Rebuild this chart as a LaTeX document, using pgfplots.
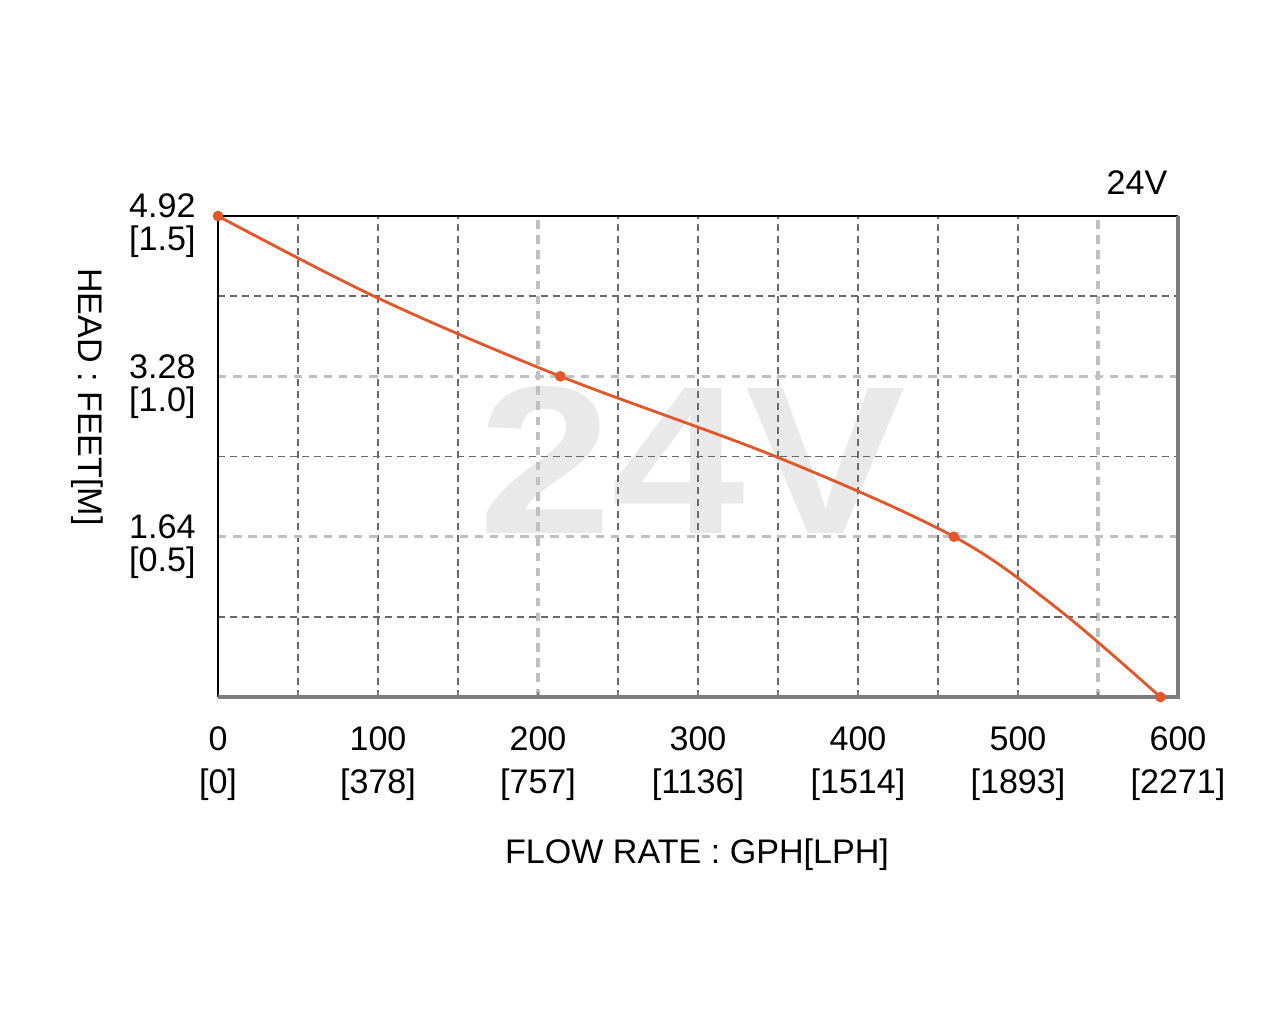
\documentclass[border=0pt]{standalone}
\usepackage{fontspec}
\setmainfont{Liberation Sans}
\usepackage{pgfplots}
\pgfplotsset{compat=1.18}
\definecolor{curve}{RGB}{226,86,42}
\definecolor{griddark}{RGB}{105,105,105}
\definecolor{gridlight}{RGB}{192,192,192}
\definecolor{frameg}{RGB}{125,125,125}
\definecolor{wmark}{RGB}{233,233,233}

\begin{document}
\begin{tikzpicture}
% page = 1280 x 1024 px, 1px = 0.01cm, axis origin at px (218,697)
\path[use as bounding box] (-2.18cm,-3.27cm) rectangle (10.62cm,6.97cm);

% watermark
\node[text=wmark, font=\fontsize{60}{60}\selectfont\bfseries, xscale=1.14] at (4.74cm,2.37cm) {24V};

\begin{axis}[
    at={(0,0)}, anchor=south west,
    scale only axis,
    width=9.6cm, height=4.81cm,
    xmin=0, xmax=600, ymin=0, ymax=4.92,
    axis line style={draw=none},
    major tick length=0pt,
    clip=false,
    xtick={0,100,200,300,400,500,600},
    xticklabels={{0\\{}[0]}, {100\\{}[378]}, {200\\{}[757]}, {300\\{}[1136]},
                 {400\\{}[1514]}, {500\\{}[1893]}, {600\\{}[2271]}},
    xticklabel style={align=center, font=\fontsize{9.7}{12.3}\selectfont, yshift=-0.17cm},
    ytick={1.64,3.28,4.92},
    yticklabels={{1.64\\{}[0.5]}, {3.28\\{}[1.0]}, {4.92\\{}[1.5]}},
    yticklabel style={align=right, font=\fontsize{9.7}{9.4}\selectfont, xshift=-0.1cm, yshift=-0.10cm},
]

% grid
\foreach \x in {50,100,150,250,300,350,400,450,500} {
    \edef\tmp{\noexpand\draw[griddark, line width=0.55pt, dash pattern=on 2pt off 1.4pt] (axis cs:\x,0) -- (axis cs:\x,4.92);}
    \tmp
}
\foreach \x in {200,550} {
    \edef\tmp{\noexpand\draw[gridlight, line width=1pt, dash pattern=on 2.4pt off 1.9pt] (axis cs:\x,0) -- (axis cs:\x,4.92);}
    \tmp
}
\foreach \y in {0.82,2.46,4.10} {
    \edef\tmp{\noexpand\draw[griddark, line width=0.55pt, dash pattern=on 2pt off 1.4pt] (axis cs:0,\y) -- (axis cs:600,\y);}
    \tmp
}
\foreach \y in {1.64,3.28} {
    \edef\tmp{\noexpand\draw[gridlight, line width=1pt, dash pattern=on 2.4pt off 1.9pt] (axis cs:0,\y) -- (axis cs:600,\y);}
    \tmp
}

% frame
\draw[black, line width=0.6pt] (axis cs:0,0) -- (axis cs:0,4.92) -- (axis cs:600,4.92);
\draw[frameg, line width=1.2pt] (axis cs:600,4.92) -- (axis cs:600,0) -- (axis cs:0,0);
\foreach \x in {50,100,...,550} {
    \edef\tmp{\noexpand\draw[frameg, line width=0.5pt] (axis cs:\x,0) -- ++(0,0.05cm);}
    \tmp
}

% pump curve
\addplot[curve, line width=0.8pt, smooth, tension=0.55, no marks] coordinates {
    (0,4.92) (100,4.08) (214,3.28) (350,2.45) (460,1.64) (525,0.9) (589,0)
};
\addplot[only marks, mark=*, mark size=1.3pt, curve] coordinates {
    (0,4.92) (214,3.28) (460,1.64) (589,0)
};
\end{axis}

% labels
\node[font=\fontsize{9.7}{12}\selectfont] at (4.79cm,-1.58cm) {FLOW RATE : GPH[LPH]};
\node[font=\fontsize{9.7}{12}\selectfont, rotate=-90] at (-1.31cm,3.0cm) {HEAD : FEET[M]};
\node[font=\fontsize{9.7}{12}\selectfont, anchor=east, inner sep=0pt] at (9.5cm,5.14cm) {24V};
\end{tikzpicture}
\end{document}
